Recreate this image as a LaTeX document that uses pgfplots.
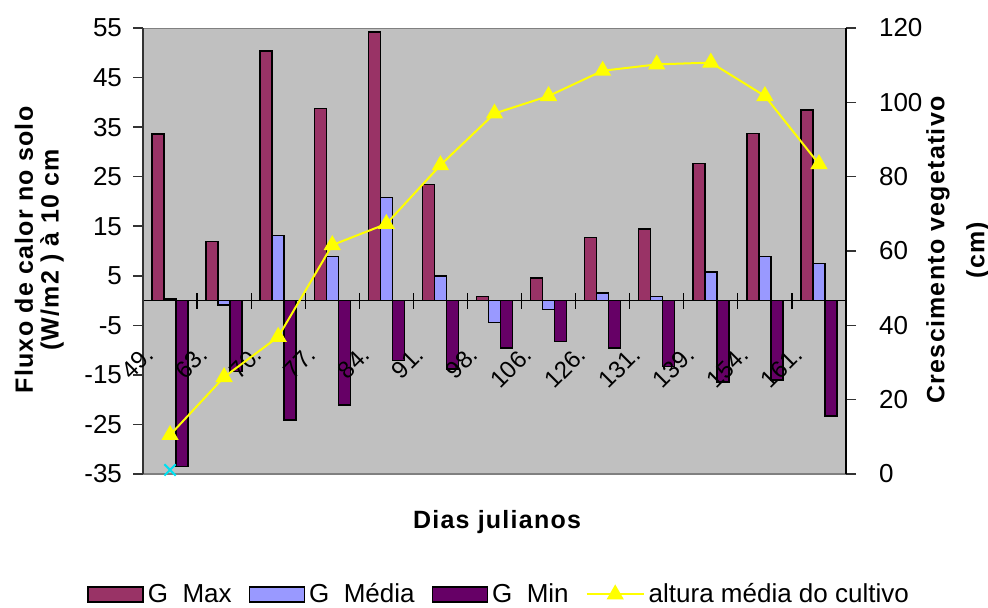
\documentclass[border=0pt]{standalone}
\usepackage{fontspec}
\setmainfont{Liberation Sans}
\newfontfamily\titlefont[LetterSpace=5]{Liberation Sans}
\usepackage{pgfplots}
\usepackage{pgfplotstable}
\pgfplotsset{compat=1.18}

\definecolor{gmax}{HTML}{993366}
\definecolor{gmed}{HTML}{9999FF}
\definecolor{gmin}{HTML}{660066}
\definecolor{plotbg}{HTML}{C0C0C0}
\definecolor{altura}{HTML}{FFFF00}
\definecolor{marcador}{HTML}{00E0F0}

% dia juliano (índice), G max, G média, G min (W/m2), altura média (cm)
\pgfplotstableread{
x  gmax  gmed  gmin   alt
0  33.6   0.3  -33.5  10.5
1  11.9  -0.9  -14.3  26.1
2  50.4  13.1  -24.1  36.9
3  38.8   8.9  -21.1  61.6
4  54.2  20.8  -12.1  67.3
5  23.4   5.0  -13.8  83.1
6   0.8  -4.4   -9.6  97.0
7   4.6  -1.8   -8.3 101.7
8  12.7   1.5   -9.6 108.5
9  14.4   0.8  -13.3 110.2
10 27.7   5.8  -16.4 110.7
11 33.7   8.9  -16.0 101.7
12 38.5   7.5  -23.3  83.4
}\datatable

\pgfplotsset{
  barlegend/.style={legend image code/.code={%
      \draw[##1] (0pt,-3.75pt) rectangle (27.5pt,3.75pt);}},
  linelegend/.style={legend image code/.code={%
      \draw[##1, mark=none] (0pt,0pt) -- (28.5pt,0pt);
      \path[##1] plot coordinates {(14.25pt,0pt)};}},
  commonaxis/.style={
    at={(71.5pt,66.5pt)}, anchor=south west,
    scale only axis, width=351.5pt, height=223pt,
    xmin=-0.5, xmax=12.5,
    tick label style={text=black},
    yticklabel style={font=\fontsize{13}{15}\selectfont},
    xticklabel style={font=\fontsize{12}{14}\selectfont},
    /pgf/number format/assume math mode=true,
    major tick length=5pt,
  },
}

\begin{document}
\begin{tikzpicture}[x=1pt,y=1pt]
\useasboundingbox (0,0) rectangle (494,303.5);

\begin{axis}[
  commonaxis,
  axis on top,
  ymin=-35, ymax=55,
  axis x line=middle, axis y line=left,
  x axis line style={-, black, line width=0.6pt},
  y axis line style={-, black!80, line width=0.8pt},
  axis background/.style={fill=plotbg},
  ybar=0pt, bar width=6pt,
  xtick={0,...,12},
  xticklabels={49.,63.,70.,77.,84.,91.,98.,106.,126.,131.,139.,154.,161.},
  major x tick style={draw=none},
  minor xtick={0.5,1.5,...,11.5},
  minor x tick style={black, line width=0.6pt},
  minor tick length=8pt,
  xtick align=center,
  xticklabel style={xshift=-5pt, yshift=-23pt, rotate=45, anchor=base east},
  ytick={-35,-25,...,55},
  ytick align=outside,
  y tick style={black!80, line width=0.8pt},
  yticklabel style={xshift=-2pt},
  legend columns=4,
  legend style={at={(-0.0797,-0.270)}, anchor=west, draw=none, fill=none,
    inner sep=0pt, font=\fontsize{13}{15}\selectfont,
    nodes={inner ysep=1pt},
    /tikz/every even column/.append style={column sep=6.5pt}},
]
\addplot[fill=gmax, draw=black, line width=0.75pt, barlegend] table[x=x,y=gmax] \datatable;
\addlegendentry{G~~Max}
\addplot[fill=gmed, draw=black, line width=0.75pt, barlegend] table[x=x,y=gmed] \datatable;
\addlegendentry{G~~Média}
\addplot[fill=gmin, draw=black, line width=0.75pt, barlegend] table[x=x,y=gmin] \datatable;
\addlegendentry{G~~Min}
\addlegendimage{altura, line width=1pt, mark=triangle*, mark size=4pt,
  mark options={fill=altura, draw=altura}, linelegend}
\addlegendentry{altura média do cultivo}
% moldura superior e inferior da área do gráfico
\draw[black!50, line width=1pt] (rel axis cs:0,1) -- (rel axis cs:1,1);
\draw[black!50, line width=1pt] (rel axis cs:0,0) -- (rel axis cs:1,0);
\end{axis}

\begin{axis}[
  commonaxis,
  ymin=0, ymax=120,
  axis x line=none, axis y line*=right,
  y axis line style={-, black, line width=0.8pt},
  ytick={0,20,...,120},
  ytick align=outside,
  y tick style={black!80, line width=0.8pt},
  yticklabel style={xshift=8pt},
]
\addplot[altura, line width=1pt, mark=triangle*, mark size=4pt,
  mark options={fill=altura, draw=altura}] table[x=x,y=alt] \datatable;
\addplot[only marks, marcador, mark=x, mark size=4pt, line width=1pt] coordinates {(0,1.1)};
\end{axis}

% títulos dos eixos
\tikzset{titulo/.style={font=\titlefont\bfseries\fontsize{12.5}{14}\selectfont}}
\node[rotate=90, titulo] at (12,178.5) {Fluxo de calor no solo};
\node[rotate=90, titulo] at (26,178.5) {(W/m2 ) à 10 cm};
\node[rotate=90, titulo] at (469,178.5) {Crescimento vegetativo};
\node[rotate=90, titulo] at (489,178.5) {(cm)};
\node[titulo] at (248.5,42.5) {Dias julianos};
\end{tikzpicture}
\end{document}
